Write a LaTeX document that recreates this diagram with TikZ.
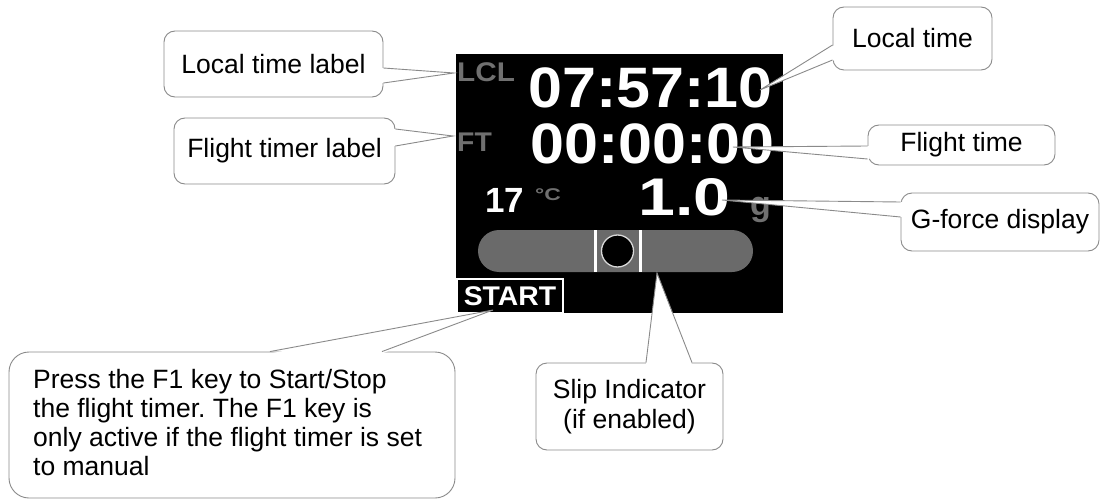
\documentclass[tikz,border=0pt]{standalone}
\usepackage{graphicx}
\usepackage{fontspec}
\setmainfont{Liberation Sans}
\usetikzlibrary{calc}
\frenchspacing
\definecolor{cgray}{HTML}{8A8A8A}
\definecolor{lgray}{HTML}{707070}
\definecolor{bgray}{HTML}{6A6A6A}
\tikzset{
  callout/.style={draw=cgray, line width=0.9pt, fill=white, rounded corners=11pt,
    inner sep=0pt, font=\fontsize{26.5}{30}\selectfont},
  wedgeline/.style={draw=cgray, line width=0.9pt},
  scrtxt/.style={inner sep=0pt, anchor=base west, text=white},
  bigdig/.style={scrtxt, font=\bfseries\fontsize{57}{57}\selectfont},
  smalllab/.style={scrtxt, text=lgray, font=\bfseries\fontsize{27}{27}\selectfont},
}
\begin{document}
\begin{tikzpicture}[x=1pt,y=-1pt]
\useasboundingbox (0,0) rectangle (1100,500);
% ---------- screen ----------
\fill[black] (456,54) rectangle (783,313);
\node[smalllab] (lcl) at (457,82) {\scalebox{1.1}[1]{LCL}};
\node[bigdig] (ltime) at (528,108) {\scalebox{1.07}[1]{07:57:10}};
\node[smalllab] (ft) at (457,152) {\scalebox{1.05}[1]{FT}};
\node[bigdig] (ftime) at (530,163) {\scalebox{1.07}[1]{00:00:00}};
\node[scrtxt, font=\bfseries\fontsize{35}{35}\selectfont] (temp) at (485,212) {17};
\node[scrtxt, text=lgray, font=\bfseries\fontsize{17}{17}\selectfont] (degc) at (535,200) {\scalebox{1.35}[1]{°C}};
\node[scrtxt, font=\bfseries\fontsize{53}{53}\selectfont] (gval) at (638,215) {\scalebox{1.25}[1]{1.0}};
\node[scrtxt, text=lgray, font=\bfseries\fontsize{34}{34}\selectfont] (gunit) at (750,215) {g};
% slip bar
\fill[bgray, rounded corners=21pt] (478,230) rectangle (753,272);
\fill[white] (594,230) rectangle (597,272);
\fill[white] (639,230) rectangle (642,272);
\draw[fill=black, draw=white!85!black, line width=1.3pt] (617.5,251) circle[radius=16pt];
% start key
\node[draw=white, line width=1.5pt, minimum width=106pt, minimum height=34pt, inner sep=0pt,
  text=white, font=\bfseries\fontsize{27}{27}\selectfont] (startbtn) at (510,296) {\scalebox{1.05}[1]{START}};
% ---------- callouts ----------
% Local time label
\node[callout, minimum width=219pt, minimum height=66pt] (ltl) at (273.5,64) {Local time label};
\coordinate (ltltip) at (454,73);
\fill[white] ([xshift=-2pt,yshift=-4pt]ltl.east) -- (ltltip) -- ([xshift=-2pt,yshift=-19pt]ltl.east) -- cycle;
\draw[wedgeline] ([yshift=-4pt]ltl.east) -- (ltltip) -- ([yshift=-19pt]ltl.east);
% Flight timer label
\node[callout, minimum width=221pt, minimum height=66pt] (ftl) at (284.5,151) {Flight timer label};
\coordinate (ftltip) at (453,136);
\fill[white] ([xshift=-2pt,yshift=22pt]ftl.east) -- (ftltip) -- ([xshift=-2pt,yshift=5pt]ftl.east) -- cycle;
\draw[wedgeline] ([yshift=22pt]ftl.east) -- (ftltip) -- ([yshift=5pt]ftl.east);
% Local time
\node[callout, minimum width=159pt, minimum height=63pt] (lt) at (912.5,38.5) {Local time};
\coordinate (lttip) at (760,90);
\fill[white] ([xshift=2pt,yshift=-6.5pt]lt.west) -- (lttip) -- ([xshift=2pt,yshift=-21.5pt]lt.west) -- cycle;
\draw[wedgeline] ([yshift=-6.5pt]lt.west) -- (lttip) -- ([yshift=-21.5pt]lt.west);
% Flight time
\node[callout, minimum width=187pt, minimum height=40pt] (ftm) at (961.5,145) {Flight time};
\coordinate (ftmtip) at (733,147);
\fill[white] ([xshift=2pt,yshift=-1pt]ftm.west) -- (ftmtip) -- ([xshift=2pt,yshift=-14pt]ftm.west) -- cycle;
\draw[wedgeline] ([yshift=-1pt]ftm.west) -- (ftmtip) -- ([yshift=-14pt]ftm.west);
% G-force display
\node[callout, minimum width=198pt, minimum height=58pt] (gf) at (1000,222) {G-force display};
\coordinate (gftip) at (722,200);
\fill[white] ([xshift=2pt,yshift=20pt]gf.west) -- (gftip) -- ([xshift=2pt,yshift=5pt]gf.west) -- cycle;
\draw[wedgeline] ([yshift=20pt]gf.west) -- (gftip) -- ([yshift=5pt]gf.west);
% START callout
\node[callout, rounded corners=20pt, minimum width=446pt, minimum height=146pt] (st) at (232,425) {};
\node[inner sep=0pt, anchor=north west, align=left, font=\fontsize{26.5}{29}\selectfont] (sttext) at (33,369)
  {Press the F1 key to Start/Stop\\the flight timer. The F1 key is\\only active if the flight timer is set\\to manual};
\coordinate (sttip) at (493,310);
\fill[white] ([xshift=38pt,yshift=-2pt]st.north) -- (sttip) -- ([xshift=150pt,yshift=-2pt]st.north) -- cycle;
\draw[wedgeline] ([xshift=38pt]st.north) -- (sttip) -- ([xshift=150pt]st.north);
% Slip indicator
\node[callout, minimum width=187pt, minimum height=87pt, align=center] (sl) at (629.5,406.5)
  {Slip Indicator\\(if enabled)};
\coordinate (sltip) at (657,273);
\fill[white] ([xshift=16.5pt,yshift=-2pt]sl.north) -- (sltip) -- ([xshift=62.5pt,yshift=-2pt]sl.north) -- cycle;
\draw[wedgeline] ([xshift=16.5pt]sl.north) -- (sltip) -- ([xshift=62.5pt]sl.north);
\end{tikzpicture}
\end{document}
